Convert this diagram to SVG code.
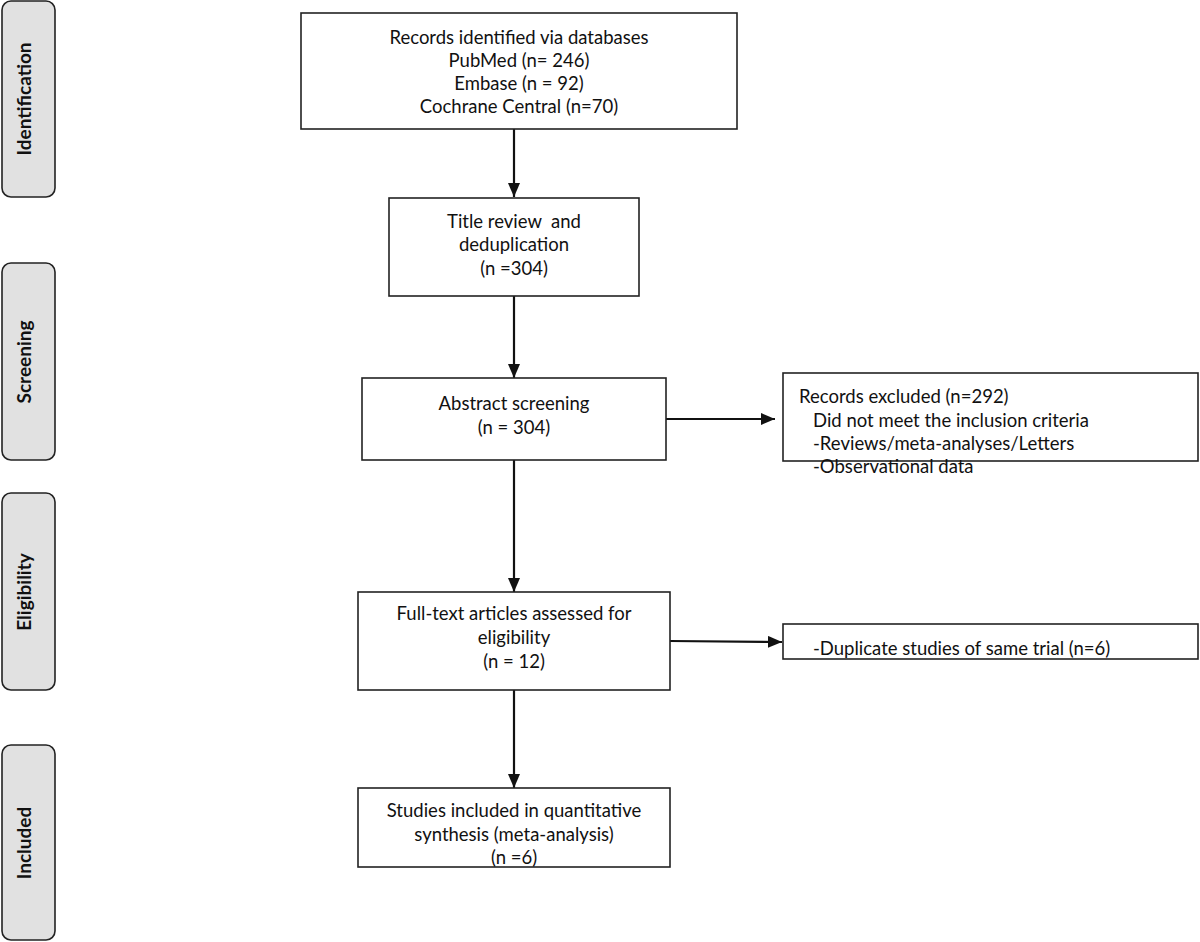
<svg xmlns="http://www.w3.org/2000/svg" width="1200" height="942" viewBox="0 0 1200 942">
<defs>
<marker id="ah" viewBox="0 0 14 12" refX="14" refY="6" markerWidth="14" markerHeight="12" markerUnits="userSpaceOnUse" orient="auto">
<path d="M0,0 L14,6 L0,12 Z" fill="#111"/>
</marker>
</defs>
<style>
.box{fill:#fff;stroke:#222;stroke-width:1.6}
.stage{fill:#e1e1e1;stroke:#222;stroke-width:1.6}
.t{font-family:Lato,"Open Sans","Liberation Sans",sans-serif;font-size:18.5px;fill:#111;white-space:pre}
.c{text-anchor:middle}
.st{font-family:Lato,"Open Sans","Liberation Sans",sans-serif;font-size:19px;font-weight:bold;fill:#111;text-anchor:middle}
.con{stroke:#111;stroke-width:2.2;fill:none;marker-end:url(#ah)}
</style>
<rect width="1200" height="942" fill="#fff"/>
<g id="stage-identification">
<rect class="stage" x="2" y="1" width="53" height="196" rx="9"/>
<text class="st" transform="translate(31,99) rotate(-90)">Identification</text>
</g>
<g id="stage-screening">
<rect class="stage" x="2" y="263" width="53" height="197" rx="9"/>
<text class="st" transform="translate(31,362) rotate(-90)">Screening</text>
</g>
<g id="stage-eligibility">
<rect class="stage" x="2" y="493" width="53" height="197" rx="9"/>
<text class="st" transform="translate(31,592) rotate(-90)">Eligibility</text>
</g>
<g id="stage-included">
<rect class="stage" x="2" y="745" width="53" height="195" rx="9"/>
<text class="st" transform="translate(31,843) rotate(-90)">Included</text>
</g>
<g id="connectors">
<line class="con" x1="514" y1="129" x2="514" y2="197"/>
<line class="con" x1="514" y1="296" x2="514" y2="378"/>
<line class="con" x1="666" y1="419" x2="775" y2="419"/>
<line class="con" x1="514" y1="460" x2="514" y2="592"/>
<line class="con" x1="670" y1="641" x2="782" y2="642"/>
<line class="con" x1="514" y1="690" x2="514" y2="788"/>
</g>
<g id="records-identified">
<rect class="box" x="301" y="13" width="436" height="116"/>
<text class="t c" x="519" y="44">Records identified via databases</text>
<text class="t c" x="519" y="67">PubMed (n= 246)</text>
<text class="t c" x="519" y="90">Embase (n = 92)</text>
<text class="t c" x="519" y="113">Cochrane Central (n=70)</text>
</g>
<g id="title-review">
<rect class="box" x="389" y="198" width="250" height="98"/>
<text class="t c" x="514" y="228" xml:space="preserve">Title review  and</text>
<text class="t c" x="514" y="251">deduplication</text>
<text class="t c" x="514" y="275">(n =304)</text>
</g>
<g id="abstract-screening">
<rect class="box" x="362" y="378" width="304" height="82"/>
<text class="t c" x="514" y="410">Abstract screening</text>
<text class="t c" x="514" y="434">(n = 304)</text>
</g>
<g id="records-excluded">
<rect class="box" x="783" y="373" width="415" height="88"/>
<text class="t" x="799" y="403">Records excluded (n=292)</text>
<text class="t" x="813" y="427">Did not meet the inclusion criteria</text>
<text class="t" x="813" y="450">-Reviews/meta-analyses/Letters</text>
<text class="t" x="813" y="473">-Observational data</text>
</g>
<g id="full-text">
<rect class="box" x="358" y="592" width="312" height="98"/>
<text class="t c" x="514" y="620">Full-text articles assessed for</text>
<text class="t c" x="514" y="644">eligibility</text>
<text class="t c" x="514" y="668">(n = 12)</text>
</g>
<g id="duplicates">
<rect class="box" x="783" y="624" width="415" height="35"/>
<text class="t" x="813" y="655">-Duplicate studies of same trial (n=6)</text>
</g>
<g id="studies-included">
<rect class="box" x="358" y="788" width="312" height="79"/>
<text class="t c" x="514" y="817">Studies included in quantitative</text>
<text class="t c" x="514" y="841">synthesis (meta-analysis)</text>
<text class="t c" x="514" y="864">(n =6)</text>
</g>
</svg>
